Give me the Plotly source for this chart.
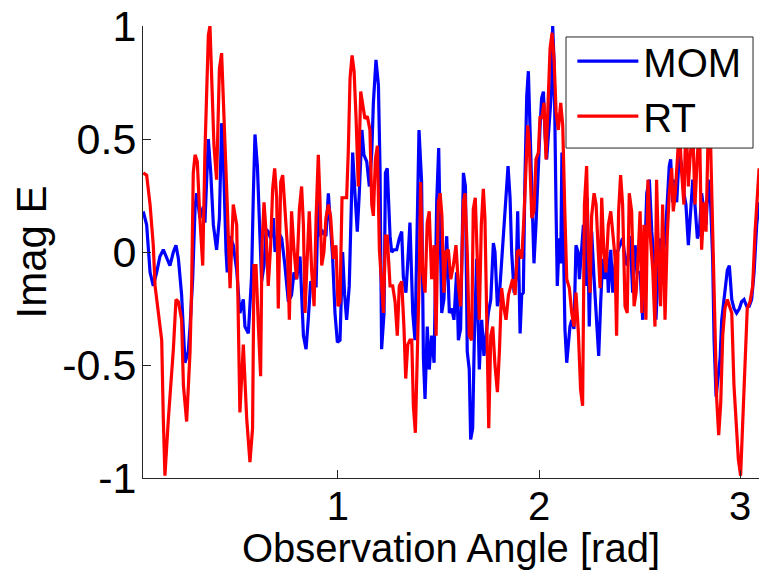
import plotly.graph_objects as go

mom_angle = [0.031,0.048,0.065,0.081,0.098,0.114,0.131,0.148,0.164,0.181,0.194,0.206,0.222,0.239,0.255,0.264,0.277,0.289,0.297,0.313,0.330,0.338,0.355,0.367,0.380,0.396,0.410,0.421,0.430,0.443,0.449,0.463,0.479,0.496,
 0.512,0.529,0.537,0.554,0.570,0.579,0.587,0.599,0.609,0.620,0.632,0.642,0.653,0.665,0.678,0.687,0.703,0.720,0.736,0.753,0.769,0.781,0.794,0.811,0.828,0.841,0.852,0.864,0.877,0.891,0.902,0.910,0.924,0.940,0.952,0.960,0.973,0.985,0.997,
 1.010,1.023,1.033,1.043,1.056,1.065,1.073,1.085,1.096,1.106,1.113,1.119,1.129,1.143,1.156,1.168,1.176,1.189,1.201,1.209,1.217,1.229,1.236,1.245,1.259,1.267,1.279,1.292,1.305,1.317,1.325,1.338,1.350,1.358,1.372,1.383,1.395,1.403,1.416,1.425,1.433,1.444,1.454,1.466,1.478,1.491,1.501,
 1.516,1.527,1.541,1.554,1.566,1.577,1.590,1.599,1.610,1.624,1.634,1.643,1.653,1.660,1.670,1.678,1.690,1.703,1.715,1.726,1.736,1.748,1.760,1.773,1.781,1.793,1.803,1.814,1.826,1.836,1.846,1.856,1.864,1.876,1.886,1.894,1.906,1.914,1.922,1.930,1.939,1.947,1.955,1.969,1.975,1.985,1.997,
 2.005,2.013,2.022,2.030,2.038,2.051,2.063,2.068,2.075,2.085,2.091,2.101,2.108,2.114,2.121,2.129,2.138,2.146,2.154,2.163,2.174,2.184,2.194,2.201,2.212,2.221,2.232,2.240,2.250,2.262,2.274,2.287,2.297,2.307,2.317,2.328,2.337,2.345,2.357,2.367,2.378,2.390,2.403,2.416,2.428,2.439,2.453,2.466,2.478,2.489,
 2.503,2.516,2.527,2.536,2.549,2.561,2.572,2.582,2.594,2.605,2.615,2.627,2.638,2.648,2.655,2.665,2.675,2.685,2.698,2.710,2.721,2.731,2.743,2.751,2.765,2.776,2.788,2.798,2.809,2.821,2.831,2.842,2.854,2.864,2.871,2.881,2.892,2.901,2.909,2.917,2.927,2.937,2.947,2.959,2.970,2.983,2.997,3.008,3.020,3.033,3.046,3.058,3.070,3.083,3.095]
mom_imag = [0.18,0.12,-0.09,-0.15,-0.09,-0.02,0.01,-0.03,-0.06,0.00,0.03,-0.03,-0.19,-0.49,-0.44,-0.33,-0.12,0.20,0.26,0.15,0.20,0.13,0.50,0.35,0.12,0.01,0.15,0.57,0.41,0.00,-0.09,0.07,0.03,-0.08,
 -0.27,-0.21,-0.33,-0.36,-0.11,0.26,0.52,0.38,0.09,-0.13,-0.06,0.10,0.09,0.06,0.15,0.00,0.09,0.06,-0.06,-0.22,-0.19,-0.09,-0.12,-0.02,-0.37,-0.43,-0.30,-0.13,-0.15,-0.15,0.24,0.07,0.09,0.07,0.26,0.15,-0.02,-0.27,-0.40,
 -0.39,0.00,-0.19,-0.30,-0.15,0.18,0.44,0.25,0.09,0.26,0.41,0.54,0.43,0.40,0.29,0.44,0.66,0.85,0.74,0.37,-0.43,-0.27,0.35,0.37,0.07,0.00,0.01,0.01,0.06,0.09,-0.11,-0.18,0.00,0.13,-0.27,-0.39,0.16,0.54,0.31,-0.47,-0.65,-0.33,-0.52,-0.37,-0.49,0.22,0.46,
 -0.27,-0.21,0.07,-0.27,-0.25,-0.30,-0.09,-0.39,-0.34,0.35,0.29,-0.44,-0.52,-0.83,-0.78,-0.39,-0.03,-0.52,-0.30,-0.46,-0.37,-0.27,-0.21,0.04,0.00,-0.24,-0.19,-0.05,0.15,0.26,0.38,0.24,0.00,-0.18,-0.11,0.18,-0.36,-0.19,-0.18,0.32,0.69,0.80,0.54,0.07,-0.05,0.12,0.44,
 0.55,0.68,0.71,0.52,0.41,0.57,0.72,1.00,0.84,0.18,-0.15,0.06,-0.05,0.44,0.07,-0.34,-0.49,-0.41,-0.33,-0.30,-0.34,0.03,0.00,-0.12,0.03,0.12,-0.15,0.24,-0.33,0.09,-0.12,-0.30,-0.46,-0.22,-0.03,-0.12,0.00,-0.18,0.01,-0.18,-0.06,0.00,0.03,0.06,-0.03,-0.06,0.07,-0.18,0.03,-0.09,
 -0.09,-0.30,0.00,0.26,0.32,0.09,-0.03,-0.30,-0.06,0.06,-0.03,0.06,0.22,0.38,0.41,0.22,0.32,0.22,0.44,0.38,0.26,0.21,0.03,0.15,0.32,0.21,0.06,0.09,0.26,0.18,0.12,0.32,0.21,-0.03,-0.39,-0.64,-0.55,-0.47,-0.30,-0.24,-0.15,-0.08,-0.06,-0.21,-0.25,-0.27,-0.25,-0.22,-0.21,-0.24,-0.24,-0.21,-0.09,0.12,0.22]

rt_angle = [0.031,0.048,0.065,0.081,0.090,0.106,0.123,0.131,0.139,0.156,0.172,0.181,0.194,0.206,0.222,0.231,0.247,0.264,0.272,0.280,0.289,0.300,0.313,0.327,0.338,0.347,0.355,0.363,0.372,0.383,0.396,0.410,0.421,0.433,0.449,0.463,0.479,0.496,
 0.512,0.529,0.546,0.562,0.575,0.582,0.592,0.604,0.615,0.622,0.632,0.642,0.653,0.665,0.675,0.685,0.695,0.703,0.715,0.725,0.736,0.748,0.758,0.769,0.781,0.794,0.808,0.819,0.828,0.836,0.844,0.857,0.869,0.881,0.891,0.902,0.910,0.919,0.930,0.940,0.952,0.963,0.977,0.990,1.000,
 1.010,1.020,1.033,1.043,1.051,1.060,1.070,1.080,1.090,1.101,1.113,1.123,1.134,1.146,1.159,1.168,1.176,1.186,1.196,1.206,1.216,1.226,1.236,1.245,1.259,1.272,1.284,1.295,1.305,1.317,1.328,1.337,1.347,1.358,1.367,1.375,1.385,1.395,1.405,1.411,1.421,1.433,1.444,1.454,1.466,1.478,1.488,1.499,
 1.508,1.517,1.527,1.537,1.549,1.561,1.574,1.587,1.599,1.610,1.624,1.632,1.643,1.653,1.665,1.673,1.683,1.693,1.703,1.713,1.723,1.731,1.740,1.750,1.760,1.770,1.781,1.793,1.803,1.814,1.826,1.836,1.848,1.859,1.869,1.881,1.892,1.902,1.914,1.925,1.935,1.944,1.952,1.964,1.975,1.985,1.997,
 2.005,2.013,2.025,2.035,2.046,2.055,2.065,2.075,2.085,2.096,2.108,2.118,2.129,2.138,2.151,2.163,2.174,2.184,2.196,2.207,2.217,2.226,2.237,2.245,2.254,2.262,2.274,2.284,2.295,2.304,2.312,2.323,2.333,2.345,2.357,2.367,2.378,2.386,2.396,2.406,2.416,2.428,2.439,2.449,2.461,2.473,2.483,2.494,
 2.503,2.512,2.522,2.532,2.542,2.552,2.566,2.577,2.585,2.594,2.605,2.615,2.627,2.638,2.648,2.660,2.668,2.678,2.688,2.698,2.710,2.721,2.731,2.743,2.751,2.765,2.776,2.788,2.798,2.809,2.821,2.831,2.842,2.854,2.864,2.876,2.884,2.894,2.904,2.914,2.925,2.937,2.947,2.959,2.970,2.980,2.992,3.003,3.013,3.025,3.036,3.050,3.063,3.075,3.086,3.095]
rt_imag = [0.35,0.34,0.21,0.03,-0.15,-0.27,-0.39,-0.74,-0.99,-0.74,-0.56,-0.43,-0.21,-0.22,-0.30,-0.59,-0.75,-0.44,-0.15,0.35,0.43,0.40,0.15,-0.06,0.44,0.77,0.96,1.00,0.77,0.47,0.32,0.81,0.88,0.62,0.21,-0.16,0.21,0.12,
 -0.71,-0.41,-0.74,-0.93,-0.78,-0.06,-0.06,-0.33,-0.55,0.03,0.22,0.09,-0.15,0.03,0.28,0.37,0.24,-0.25,0.31,0.34,0.18,0.03,-0.30,0.18,0.01,-0.12,0.19,0.29,0.12,-0.27,-0.09,0.18,-0.08,-0.24,0.15,0.43,0.24,-0.06,0.00,0.15,0.21,0.16,-0.03,0.03,-0.24,
 -0.22,0.24,0.24,0.24,0.44,0.77,0.87,0.80,0.59,0.29,0.71,0.65,0.59,0.60,0.54,0.21,0.16,0.41,0.47,0.01,-0.15,-0.27,0.07,0.07,-0.15,-0.15,-0.22,-0.37,-0.15,-0.13,-0.33,-0.56,-0.41,-0.39,-0.39,-0.68,-0.80,-0.44,-0.08,0.31,-0.09,-0.18,0.13,0.18,-0.12,0.03,-0.37,0.22,
 0.26,0.16,-0.18,0.00,0.01,-0.12,-0.06,0.03,-0.15,-0.24,0.22,0.26,0.00,-0.37,-0.39,0.19,0.24,-0.03,-0.30,0.12,0.28,0.15,-0.37,-0.78,-0.37,-0.33,-0.50,-0.62,-0.44,-0.16,-0.25,-0.30,-0.19,-0.15,-0.12,-0.19,0.00,0.01,-0.03,0.15,0.40,0.56,0.47,0.15,0.18,0.41,0.44,
 0.60,0.59,0.66,0.41,0.74,0.90,0.97,0.85,0.62,0.54,0.66,0.56,0.16,-0.12,-0.16,-0.27,-0.33,-0.18,-0.36,-0.61,-0.68,0.21,0.38,0.00,-0.18,0.16,0.26,0.21,0.00,-0.16,0.24,0.00,-0.09,0.12,0.18,0.07,-0.02,-0.37,0.18,0.34,0.21,-0.24,-0.27,0.26,0.18,-0.24,-0.18,0.00,
 0.18,-0.27,0.12,-0.30,0.32,0.09,-0.08,-0.33,0.32,0.00,-0.24,0.21,-0.30,0.07,0.26,0.37,0.18,0.26,0.41,0.55,0.35,0.21,0.60,0.29,0.41,0.55,0.21,0.43,0.60,0.01,0.22,0.09,0.55,0.47,0.12,-0.30,-0.65,-0.81,-0.67,-0.37,-0.25,-0.21,-0.24,-0.27,-0.59,-0.77,-0.92,-0.99,-0.74,-0.44,-0.25,-0.22,-0.15,0.09,0.26,0.37]

x_ticks = [1, 2, 3]
y_ticks = [-1, -0.5, 0, 0.5, 1]
y_ticktext = ["-1", "-0.5", "0", "0.5", "1"]

FONT = "Liberation Sans"
AXC = "#262626"

fig = go.Figure()
fig.add_trace(go.Scatter(x=mom_angle, y=mom_imag, mode="lines", name="MOM",
                         line=dict(color="#0000FF", width=3.2)))
fig.add_trace(go.Scatter(x=rt_angle, y=rt_imag, mode="lines", name="RT",
                         line=dict(color="#FF0000", width=3.2)))

fig.update_layout(
    width=759, height=570,
    margin=dict(l=143, r=0, t=26, b=92),
    paper_bgcolor="white", plot_bgcolor="white",
    font=dict(family=FONT, size=40, color="black"),
    showlegend=True,
    legend=dict(x=0.697, y=0.994, xanchor="left", yanchor="top",
                bgcolor="rgba(0,0,0,0)", borderwidth=0,
                font=dict(size=40), itemwidth=61, tracegroupgap=0),
    shapes=[dict(type="rect", xref="paper", yref="paper",
                 x0=0.6867, x1=0.9903, y0=0.730, y1=0.9757,
                 fillcolor="white", line=dict(color=AXC, width=1), layer="above")],
)
fig.update_xaxes(range=[0.0299, 3.0945], tickvals=x_ticks, ticks="inside", ticklen=8,
                 tickcolor=AXC, showline=True, linecolor=AXC, linewidth=1,
                 showgrid=False, zeroline=False, mirror=False,
                 tickfont=dict(size=40),
                 title=dict(text="Observation Angle [rad]", standoff=1, font=dict(size=40)),
                 ticklabelstandoff=-7)
fig.update_yaxes(range=[-1, 1], tickvals=y_ticks, ticktext=y_ticktext, ticks="inside", ticklen=8,
                 tickcolor=AXC, showline=True, linecolor=AXC, linewidth=1,
                 showgrid=False, zeroline=False, mirror=False,
                 tickfont=dict(size=43),
                 title=dict(text="Imag E", standoff=2, font=dict(size=42)),
                 ticklabelstandoff=-3)

fig.write_html("out.html")
